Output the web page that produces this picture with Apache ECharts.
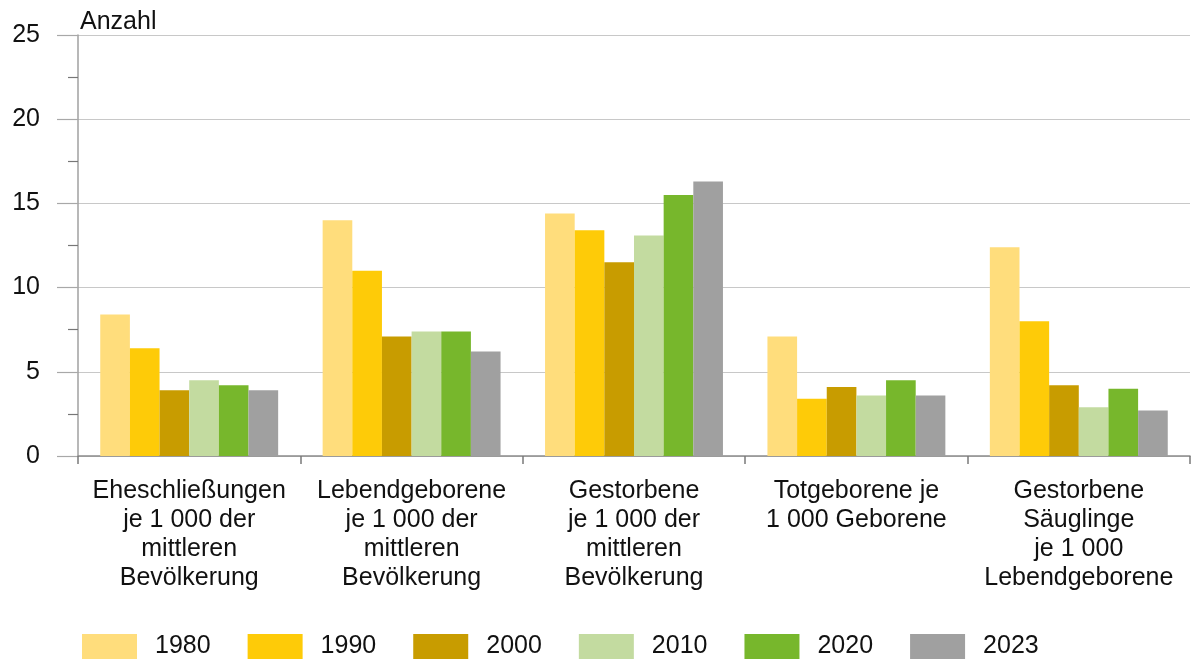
<!DOCTYPE html>
<html>
<head>
<meta charset="utf-8">
<script src="https://cdn.jsdelivr.net/npm/echarts@6/dist/echarts.min.js"></script>
<style>
  html, body { margin: 0; padding: 0; background: #fff; }
  #chart { width: 1191px; height: 662px; }
</style>
</head>
<body>
<div id="chart"></div>
<script>
// Kategorien (x-Achse)
const categories = [
    "Eheschließungen\nje 1 000 der\nmittleren\nBevölkerung",
    "Lebendgeborene\nje 1 000 der\nmittleren\nBevölkerung",
    "Gestorbene\nje 1 000 der\nmittleren\nBevölkerung",
    "Totgeborene je\n1 000 Geborene",
    "Gestorbene\nSäuglinge\nje 1 000\nLebendgeborene"
];

const years = ["1980", "1990", "2000", "2010", "2020", "2023"];

// Werte je Jahr
const v1980 = [8.4, 14.0, 14.4, 7.1, 12.4];
const v1990 = [6.4, 11.0, 13.4, 3.4, 8.0];
const v2000 = [3.9, 7.1, 11.5, 4.1, 4.2];
const v2010 = [4.5, 7.4, 13.1, 3.6, 2.9];
const v2020 = [4.2, 7.4, 15.5, 4.5, 4.0];
const v2023 = [3.9, 6.2, 16.3, 3.6, 2.7];

const colors = ["#FFDD7C", "#FECB08", "#C89C00", "#C3DBA0", "#77B72C", "#A0A0A0"];

const yTicks = [0, 5, 10, 15, 20, 25];

const allValues = [v1980, v1990, v2000, v2010, v2020, v2023];
const font = "'Liberation Sans', Arial, sans-serif";
const txt = '#111';

const chart = echarts.init(document.getElementById('chart'), null, { renderer: 'canvas' });

const series = years.map(function (y, i) {
    return {
        name: y,
        type: 'bar',
        data: allValues[i],
        barGap: '0%',
        barCategoryGap: '20%',
        itemStyle: { color: colors[i] },
        emphasis: { disabled: true }
    };
});

chart.setOption({
    animation: false,
    color: colors,
    textStyle: { fontFamily: font, color: txt },
    grid: { left: 78, right: 1, top: 35, bottom: 206, containLabel: false },
    legend: {
        data: years,
        left: 82,
        top: 634,
        padding: 0,
        icon: 'rect',
        itemWidth: 55,
        itemHeight: 25,
        itemGap: 37,
        textStyle: { fontSize: 25, color: txt, fontFamily: font, padding: [0, 0, 0, 13] }
    },
    xAxis: {
        type: 'category',
        data: categories,
        axisLine: { lineStyle: { color: '#8c8c8c', width: 1.5 } },
        axisTick: { show: true, length: 8, lineStyle: { color: '#7a7a7a', width: 1.5 } },
        axisLabel: {
            interval: 0,
            fontSize: 25,
            lineHeight: 29,
            margin: 21,
            color: txt,
            fontFamily: font
        }
    },
    yAxis: {
        type: 'value',
        min: yTicks[0],
        max: yTicks[yTicks.length - 1],
        interval: 5,
        name: 'Anzahl',
        nameLocation: 'end',
        nameGap: 13,
        nameTextStyle: { fontSize: 25, color: txt, align: 'left', verticalAlign: 'middle', padding: [0, 0, 0, 2], fontFamily: font },
        axisLine: { show: true, lineStyle: { color: '#a0a0a0', width: 1.5 } },
        axisTick: { show: true, length: 21, lineStyle: { color: '#a8a8a8', width: 1.2 } },
        minorTick: { show: true, splitNumber: 2, length: 10, lineStyle: { color: '#777', width: 1.2 } },
        splitLine: { show: true, lineStyle: { color: '#c8c8c8', width: 1.2 } },
        axisLabel: { fontSize: 25, margin: 38, color: txt, fontFamily: font }
    },
    series: series
});
</script>
</body>
</html>
